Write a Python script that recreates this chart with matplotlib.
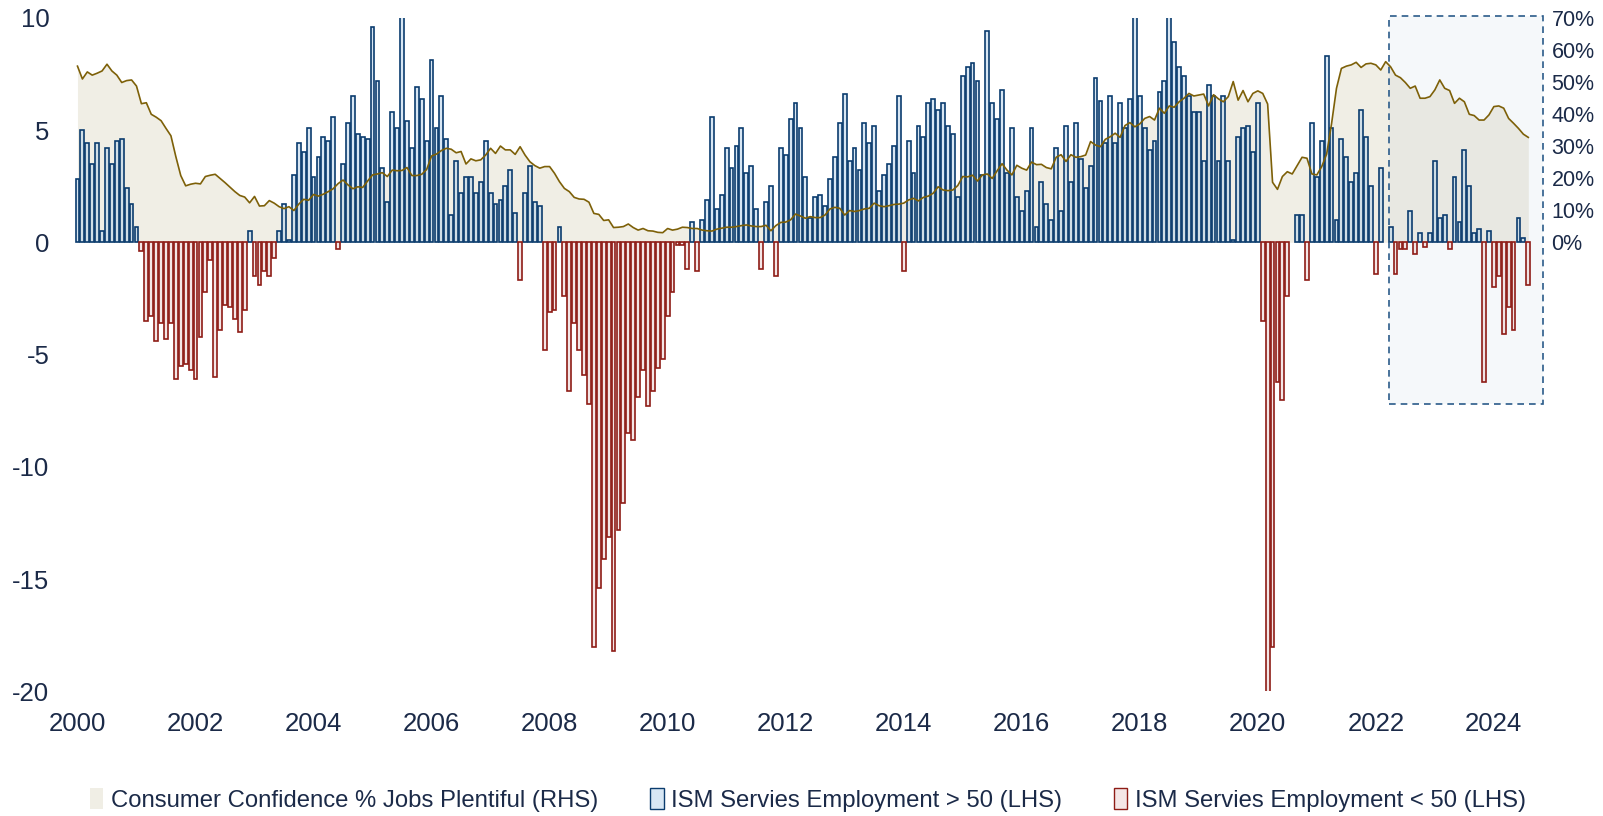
import numpy as np
import matplotlib
matplotlib.use("Agg")
import matplotlib.pyplot as plt
from matplotlib.patches import Patch, Rectangle

plt.rcParams['font.family'] = ['Liberation Sans', 'DejaVu Sans']

# ISM services employment index minus 50 (LHS), monthly from Jan 2000
ism_2000 = [2.8, 5.0, 4.4, 3.5, 4.4, 0.5, 4.2, 3.5, 4.5, 4.6, 2.4, 1.7]
ism_2001 = [0.7, -0.4, -3.5, -3.3, -4.4, -3.6, -4.3, -3.6, -6.1, -5.5, -5.4, -5.7]
ism_2002 = [-6.1, -4.2, -2.2, -0.8, -6.0, -3.9, -2.8, -2.9, -3.4, -4.0, -3.0, 0.5]
ism_2003 = [-1.5, -1.9, -1.3, -1.5, -0.7, 0.5, 1.7, 0.1, 3.0, 4.4, 4.0, 5.1]
ism_2004 = [2.9, 3.8, 4.7, 4.5, 5.6, -0.3, 3.5, 5.3, 6.5, 4.8, 4.7, 4.6]
ism_2005 = [9.6, 7.2, 3.3, 1.8, 5.8, 5.1, 10.5, 5.4, 4.2, 6.9, 6.4, 4.5]
ism_2006 = [8.1, 5.1, 6.5, 4.6, 1.2, 3.6, 2.2, 2.9, 2.9, 2.2, 2.7, 4.5]
ism_2007 = [2.2, 1.7, 1.9, 2.5, 3.2, 1.3, -1.7, 2.2, 3.4, 1.8, 1.6, -4.8]
ism_2008 = [-3.1, -3.0, 0.7, -2.4, -6.6, -3.6, -4.8, -5.9, -7.2, -18.0, -15.4, -14.1]
ism_2009 = [-13.1, -18.2, -12.8, -11.6, -8.5, -8.8, -6.9, -5.7, -7.3, -6.6, -5.6, -5.2]
ism_2010 = [-3.3, -2.2, -0.1, -0.1, -1.2, 0.9, -1.3, 1.0, 1.9, 5.6, 1.5, 2.1]
ism_2011 = [4.2, 3.3, 4.3, 5.1, 3.1, 3.4, 1.5, -1.2, 1.8, 2.5, -1.5, 4.2]
ism_2012 = [3.9, 5.5, 6.2, 5.1, 2.9, 1.1, 2.0, 2.1, 1.6, 2.8, 3.8, 5.3]
ism_2013 = [6.6, 3.6, 4.2, 3.2, 5.3, 4.4, 5.2, 2.3, 3.0, 3.5, 4.3, 6.5]
ism_2014 = [-1.3, 4.5, 3.1, 5.2, 4.7, 6.2, 6.4, 5.9, 6.2, 5.2, 4.8, 2.0]
ism_2015 = [7.4, 7.8, 8.0, 7.2, 3.0, 9.4, 6.2, 5.5, 6.8, 3.1, 5.1, 2.0]
ism_2016 = [1.4, 2.3, 5.1, 0.7, 2.7, 1.7, 1.0, 4.2, 1.4, 5.2, 2.7, 5.3]
ism_2017 = [3.7, 2.4, 3.4, 7.3, 6.3, 4.4, 6.5, 4.4, 6.2, 5.1, 6.4, 10.5]
ism_2018 = [6.5, 5.1, 4.1, 4.5, 6.7, 7.2, 10.5, 8.9, 7.8, 7.4, 6.5, 5.8]
ism_2019 = [5.8, 3.6, 7.0, 6.5, 3.6, 6.5, 3.6, 0.1, 4.7, 5.1, 5.2, 4.0]
ism_2020 = [6.2, -3.5, -20.6, -18.0, -6.2, -7.0, -2.4, 0.0, 1.2, 1.2, -1.7, 5.3]
ism_2021 = [2.9, 4.5, 8.3, 5.1, 1.0, 4.6, 3.8, 2.7, 3.1, 5.9, 4.7, 2.5]
ism_2022 = [-1.4, 3.3, 0.0, 0.7, -1.4, -0.3, -0.3, 1.4, -0.5, 0.4, -0.2, 0.4]
ism_2023 = [3.6, 1.1, 1.2, -0.3, 2.9, 0.9, 4.1, 2.5, 0.4, 0.6, -6.2, 0.5]
ism_2024 = [-2.0, -1.5, -4.1, -2.9, -3.9, 1.1, 0.2, -1.9]

# Consumer Confidence % jobs plentiful (RHS), monthly from Jan 2000
jobs_2000 = [54.9, 50.9, 53.1, 52.1, 52.7, 53.4, 55.5, 53.4, 52.1, 49.8, 50.4, 50.6]
jobs_2001 = [48.7, 43.2, 43.5, 39.9, 39.0, 37.9, 35.5, 33.2, 26.7, 20.8, 17.6, 18.1]
jobs_2002 = [18.4, 18.2, 20.5, 20.9, 21.2, 19.9, 18.6, 17.2, 15.8, 14.6, 14.1, 12.3]
jobs_2003 = [14.3, 11.3, 11.4, 13.0, 12.2, 11.1, 10.5, 11.1, 9.9, 11.9, 13.4, 13.1]
jobs_2004 = [14.9, 14.4, 15.0, 15.8, 16.7, 18.3, 19.4, 17.9, 16.7, 17.3, 17.1, 19.1]
jobs_2005 = [21.0, 21.3, 21.7, 20.5, 22.5, 22.3, 22.4, 23.3, 20.8, 20.8, 21.2, 22.7]
jobs_2006 = [26.9, 27.5, 28.6, 29.3, 29.0, 27.9, 28.3, 24.4, 26.0, 25.4, 25.7, 27.2]
jobs_2007 = [29.3, 27.7, 30.0, 28.8, 28.8, 27.4, 29.8, 27.2, 25.1, 23.9, 23.1, 23.6]
jobs_2008 = [23.6, 21.5, 18.9, 16.8, 15.8, 14.0, 13.5, 13.4, 12.5, 9.0, 8.7, 6.8]
jobs_2009 = [7.0, 4.6, 4.7, 4.9, 5.7, 4.6, 3.8, 4.3, 3.6, 3.5, 3.1, 3.0]
jobs_2010 = [4.3, 3.8, 4.1, 4.7, 4.6, 4.3, 4.3, 3.8, 3.6, 3.5, 4.1, 4.4]
jobs_2011 = [4.7, 4.7, 4.9, 5.2, 5.4, 5.1, 4.9, 4.9, 5.3, 3.6, 5.2, 6.2]
jobs_2012 = [6.3, 7.0, 8.8, 8.2, 7.5, 8.0, 7.7, 7.7, 8.5, 10.4, 10.9, 10.6]
jobs_2013 = [8.5, 9.9, 9.6, 9.9, 10.4, 10.6, 12.2, 11.4, 11.1, 11.4, 11.8, 11.9]
jobs_2014 = [12.2, 13.2, 13.7, 12.9, 14.0, 14.4, 15.3, 17.3, 16.3, 16.1, 16.3, 17.7]
jobs_2015 = [20.5, 20.4, 20.9, 19.1, 21.0, 21.3, 19.9, 22.3, 24.5, 22.5, 21.0, 24.0]
jobs_2016 = [23.1, 22.5, 25.0, 24.2, 24.3, 23.3, 22.9, 26.5, 27.3, 25.2, 27.3, 26.5]
jobs_2017 = [26.7, 27.2, 31.4, 30.3, 29.8, 32.1, 32.9, 34.0, 32.7, 36.4, 37.3, 36.0]
jobs_2018 = [36.9, 38.6, 39.2, 38.1, 41.8, 40.2, 42.5, 42.1, 43.8, 44.9, 46.4, 45.6]
jobs_2019 = [45.9, 46.2, 42.5, 46.0, 44.7, 43.8, 45.4, 50.1, 44.3, 47.3, 43.8, 46.4]
jobs_2020 = [47.2, 46.4, 43.1, 18.7, 16.5, 20.5, 22.0, 21.3, 23.9, 26.5, 26.2, 21.3]
jobs_2021 = [21.0, 23.6, 27.5, 37.0, 48.0, 54.2, 54.9, 55.3, 56.1, 54.5, 55.6, 55.8]
jobs_2022 = [55.3, 53.7, 56.3, 54.7, 52.1, 51.3, 49.8, 48.0, 48.7, 44.9, 44.9, 45.4]
jobs_2023 = [47.5, 50.6, 48.0, 47.3, 43.3, 44.9, 43.8, 39.9, 39.5, 38.1, 38.1, 39.7]
jobs_2024 = [42.3, 42.5, 41.8, 38.6, 37.1, 35.5, 33.7, 32.7]

year_ticks = [2000, 2002, 2004, 2006, 2008, 2010, 2012, 2014, 2016, 2018, 2020, 2022, 2024]
left_ticks = [-20, -15, -10, -5, 0, 5, 10]
right_ticks = [0, 10, 20, 30, 40, 50, 60, 70]
legend_labels = ['Consumer Confidence % Jobs Plentiful (RHS)',
                 'ISM Servies Employment > 50 (LHS)',
                 'ISM Servies Employment < 50 (LHS)']

ism = np.array(ism_2000 + ism_2001 + ism_2002 + ism_2003 + ism_2004 + ism_2005
               + ism_2006 + ism_2007 + ism_2008 + ism_2009 + ism_2010 + ism_2011
               + ism_2012 + ism_2013 + ism_2014 + ism_2015 + ism_2016 + ism_2017
               + ism_2018 + ism_2019 + ism_2020 + ism_2021 + ism_2022 + ism_2023
               + ism_2024)
jobs = np.array(jobs_2000 + jobs_2001 + jobs_2002 + jobs_2003 + jobs_2004 + jobs_2005
                + jobs_2006 + jobs_2007 + jobs_2008 + jobs_2009 + jobs_2010 + jobs_2011
                + jobs_2012 + jobs_2013 + jobs_2014 + jobs_2015 + jobs_2016 + jobs_2017
                + jobs_2018 + jobs_2019 + jobs_2020 + jobs_2021 + jobs_2022 + jobs_2023
                + jobs_2024)
x = 2000 + np.arange(len(ism)) / 12

text_col = '#1b2a48'
blue_edge, blue_face = '#0b3c6e', (0.72, 0.83, 0.92, 0.55)
red_edge, red_face = '#8e1c16', (0.93, 0.84, 0.84, 0.6)
area_col = '#f0eee5'
line_col = '#7d6008'

fig = plt.figure(figsize=(16.03, 8.16), dpi=100)
ax = fig.add_axes([0.0468, 0.1526, 0.9158, 0.8257])
ax2 = ax.twinx()
ax3 = ax.twinx()
ax2.set_zorder(1)
ax.set_zorder(2)
ax3.set_zorder(3)
ax.patch.set_visible(False)
ax3.patch.set_visible(False)

# area (RHS)
ax2.fill_between(x, 0, jobs, color=area_col, lw=0)
ax3.plot(x, jobs, color=line_col, lw=1.2)

# bars (LHS)
w = 0.78 / 12
pos = ism > 0
neg = ism < 0
ax.bar(x[pos], ism[pos], width=w, facecolor=blue_face, edgecolor=blue_edge, lw=1.2, zorder=2)
ax.bar(x[neg], ism[neg], width=w, facecolor=red_face, edgecolor=red_edge, lw=1.2, zorder=2)

# highlight box
box_x0, box_x1 = 2022.225, 2024.833
box_y0, box_y1 = -7.21, 10.08
ax.add_patch(Rectangle((box_x0, box_y0), box_x1 - box_x0, box_y1 - box_y0,
                       facecolor='#8ca8c3', alpha=0.08, edgecolor='none',
                       zorder=1, clip_on=False))
ax.add_patch(Rectangle((box_x0, box_y0), box_x1 - box_x0, box_y1 - box_y0,
                       fill=False, edgecolor='#2b5b8a', lw=1.2, ls=(0, (4, 3)),
                       zorder=4, clip_on=False))

ax.set_xlim(2000 - 0.5 / 12, 2000 + 298 / 12)
ax.set_ylim(-20, 10)
ax2.set_ylim(-140, 70)
ax3.set_ylim(-140, 70)

ax.set_xticks(year_ticks)
ax.set_xticklabels([str(y) for y in year_ticks])
ax.set_yticks(left_ticks)
ax.set_yticklabels([str(v) for v in left_ticks])
ax2.set_yticks(right_ticks)
ax2.set_yticklabels([f'{v}%' for v in right_ticks])
ax3.set_yticks([])

ax.tick_params(axis='both', length=0, labelsize=18.5, colors=text_col)
ax.tick_params(axis='y', pad=18.5)
ax.tick_params(axis='x', pad=14.5)
ax2.tick_params(axis='y', length=0, labelsize=15.5, colors=text_col, pad=6.0)

for a in (ax, ax2, ax3):
    for s in a.spines.values():
        s.set_visible(False)

handles = [Patch(facecolor=area_col, edgecolor='none'),
           Patch(facecolor=blue_face, edgecolor=blue_edge, lw=1.0),
           Patch(facecolor=red_face, edgecolor=red_edge, lw=1.0)]
fig.legend(handles, legend_labels, loc='center', bbox_to_anchor=(0.504, 0.0196),
           ncol=3, frameon=False, fontsize=17.2, labelcolor=text_col,
           handlelength=0.55, handleheight=1.0, handletextpad=0.3, columnspacing=2.2)

fig.savefig('out.png', dpi=100)
